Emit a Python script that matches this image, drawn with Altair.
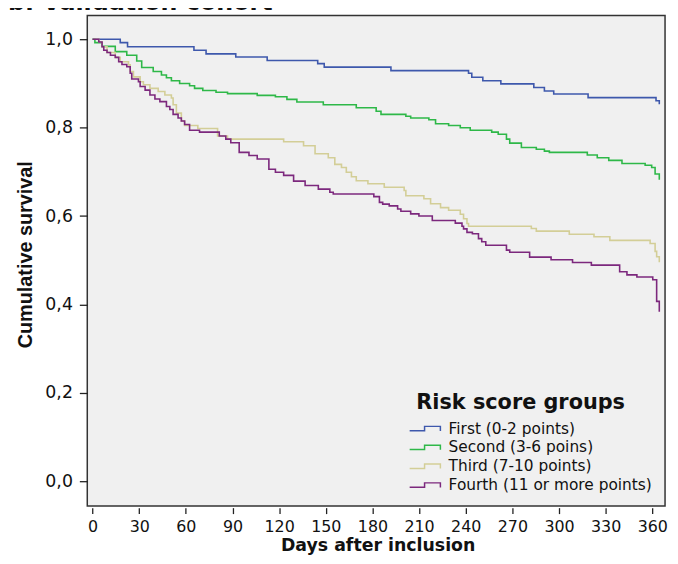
import altair as alt
import pandas as pd

# ---------------- data ----------------
groups = ["First (0-2 points)", "Second (3-6 poins)", "Third (7-10 points)",
          "Fourth (11 or more points)"]
colors = ["#3E58AC", "#2EB848", "#D3CE97", "#7C287D"]

first_days = [0, 17.8, 22.5, 65.2, 73.0, 92.1, 112.3, 144.8, 149.0, 191.9, 241.8,
              243.9, 251.0, 262.6, 283.8, 290.6, 296.6, 318.7, 362.4, 364.5, 365]
first_surv = [1.0, 0.9925, 0.983, 0.975, 0.967, 0.960, 0.952, 0.945, 0.937, 0.929,
              0.923, 0.914, 0.906, 0.899, 0.891, 0.883, 0.876, 0.868, 0.861, 0.855,
              0.855]

second_days = [0, 1.5, 6.1, 14.6, 22.0, 28.4, 31.6, 39.0, 44.3, 47.5, 50.7, 56.0,
               62.4, 65.6, 70.9, 79.4, 86.8, 105.9, 117.6, 125.0, 131.4, 148.4,
               169.6, 182.4, 185.5, 201.5, 204.6, 216.3, 220.6, 229.0, 236.5, 242.9,
               256.7, 260.9, 266.2, 268.3, 275.8, 285.4, 290.6, 293.8, 318.2, 324.6,
               332.0, 340.5, 355.4, 359.6, 361.8, 364.5, 365]
second_surv = [1.0, 0.9925, 0.984, 0.972, 0.964, 0.951, 0.936, 0.927, 0.919, 0.913,
               0.906, 0.900, 0.895, 0.889, 0.884, 0.880, 0.877, 0.873, 0.870, 0.864,
               0.858, 0.852, 0.845, 0.837, 0.830, 0.826, 0.822, 0.818, 0.809, 0.805,
               0.800, 0.794, 0.790, 0.785, 0.774, 0.765, 0.755, 0.751, 0.747, 0.744,
               0.738, 0.732, 0.726, 0.719, 0.715, 0.710, 0.695, 0.684, 0.684]

third_days = [0, 4.0, 6.1, 9.3, 14.6, 17.8, 23.1, 24.2, 26.3, 30.6, 32.7, 36.9, 42.2,
              46.5, 50.7, 51.8, 53.9, 57.1, 59.2, 67.7, 80.4, 86.8, 122.9, 135.7,
              143.1, 151.6, 155.8, 160.1, 163.2, 166.5, 169.6, 177.1, 187.6, 200.4,
              201.5, 213.1, 217.4, 223.8, 229.0, 236.5, 238.6, 240.8, 241.8, 282.2,
              285.4, 306.6, 322.5, 332.7, 358.6, 361.8, 362.8, 364.5, 365]
third_surv = [1.0, 0.994, 0.983, 0.970, 0.959, 0.949, 0.942, 0.927, 0.915, 0.904,
              0.897, 0.889, 0.882, 0.874, 0.867, 0.852, 0.833, 0.815, 0.805, 0.798,
              0.781, 0.774, 0.768, 0.759, 0.741, 0.732, 0.717, 0.710, 0.699, 0.689,
              0.680, 0.673, 0.665, 0.658, 0.646, 0.639, 0.628, 0.619, 0.613, 0.604,
              0.594, 0.583, 0.577, 0.572, 0.566, 0.559, 0.553, 0.545, 0.538, 0.520,
              0.508, 0.497, 0.497]

fourth_days = [0, 4.0, 6.1, 7.2, 9.3, 11.5, 14.6, 16.8, 18.9, 22.0, 24.2, 25.2, 29.5,
               30.6, 33.8, 36.9, 40.1, 43.3, 47.5, 49.7, 51.8, 55.0, 57.1, 59.2, 62.4,
               68.8, 81.5, 85.7, 88.9, 94.3, 100.6, 105.9, 113.4, 117.6, 122.9, 129.3,
               136.7, 145.2, 152.6, 154.8, 180.9, 184.5, 186.6, 190.8, 196.2, 198.3,
               204.6, 209.9, 218.5, 233.3, 237.6, 238.6, 240.8, 244.3, 248.2, 250.3,
               252.9, 266.2, 268.3, 281.1, 294.9, 308.7, 320.8, 339.0, 343.7, 350.1,
               360.3, 362.8, 364.5, 365]
fourth_surv = [1.0, 0.994, 0.983, 0.975, 0.970, 0.964, 0.959, 0.949, 0.943, 0.938,
               0.923, 0.910, 0.904, 0.893, 0.885, 0.874, 0.865, 0.859, 0.848, 0.841,
               0.830, 0.822, 0.815, 0.807, 0.794, 0.790, 0.781, 0.774, 0.766, 0.744,
               0.737, 0.729, 0.706, 0.699, 0.692, 0.679, 0.669, 0.661, 0.654, 0.650,
               0.644, 0.631, 0.627, 0.623, 0.616, 0.611, 0.605, 0.600, 0.590, 0.584,
               0.577, 0.571, 0.563, 0.560, 0.549, 0.542, 0.534, 0.523, 0.518, 0.507,
               0.501, 0.495, 0.489, 0.474, 0.467, 0.462, 0.456, 0.407, 0.385, 0.385]

x_ticks = list(range(0, 361, 30))
y_ticks = [0.0, 0.2, 0.4, 0.6, 0.8, 1.0]
chart_title = "b. Validation cohort"
x_title = "Days after inclusion"
y_title = "Cumulative survival"
legend_title = "Risk score groups"

# ---------------- table ----------------
rows = []
for g, d, s in zip(groups, [first_days, second_days, third_days, fourth_days],
                   [first_surv, second_surv, third_surv, fourth_surv]):
    for dd, ss in zip(d, s):
        rows.append({"group": g, "day": dd, "surv": ss})
df = pd.DataFrame(rows)

lines = alt.Chart(df).mark_line(interpolate="step-after", strokeWidth=1.6).encode(
    x=alt.X("day:Q",
            scale=alt.Scale(domain=[-3.4, 368.2], nice=False, zero=False),
            axis=alt.Axis(values=x_ticks, title=x_title, offset=1.7, domain=False,
                          grid=False, tickSize=6, tickWidth=1.3, tickColor="#222",
                          labelFont="DejaVu Sans", labelFontSize=16,
                          labelColor="#111", labelPadding=5,
                          titleFont="DejaVu Sans", titleFontSize=17.5,
                          titleFontWeight="bold", titleColor="#111",
                          titleX=293, titleY=43, titleBaseline="alphabetic",
                          titleAlign="center")),
    y=alt.Y("surv:Q",
            scale=alt.Scale(domain=[-0.056, 1.054], nice=False, zero=False),
            axis=alt.Axis(values=y_ticks, title=y_title, domain=False, grid=False,
                          tickSize=8, tickWidth=1.3, tickColor="#222",
                          labelExpr="replace(format(datum.value, '.1f'), '.', ',')",
                          labelFont="DejaVu Sans", labelFontSize=17.5,
                          labelColor="#111", labelPadding=7,
                          titleFont="Liberation Sans", titleFontSize=20,
                          titleFontWeight="bold", titleColor="#111",
                          titleAngle=270, titleX=-62, titleY=241,
                          titleAlign="center", titleBaseline="middle")),
    color=alt.Color("group:N",
                    scale=alt.Scale(domain=groups, range=colors),
                    legend=alt.Legend(orient="none", legendX=332, legendY=380,
                                      title=legend_title, titleFont="DejaVu Sans",
                                      titleFontSize=21, titleFontWeight="bold",
                                      titleColor="#111", titlePadding=8,
                                      titleLimit=400, labelLimit=400,
                                      labelFont="DejaVu Sans", labelFontSize=15.5,
                                      labelColor="#111", labelOffset=16.6,
                                      symbolType="M-2.1,0.3H0.05V-0.33H2.33V0.33",
                                      symbolSize=196, symbolStrokeWidth=1.5,
                                      symbolFillColor="transparent",
                                      rowPadding=2, padding=0)),
)

title_df = pd.DataFrame({"t": [chart_title]})
title_mark = alt.Chart(title_df).mark_text(
    align="left", baseline="alphabetic", font="DejaVu Sans", fontSize=24,
    fontWeight="bold", color="#111"
).encode(text="t:N", x=alt.value(-80), y=alt.value(-5))

chart = alt.layer(lines, title_mark).properties(
    width=583, height=495,
    autosize=alt.AutoSizeParams(type="none"),
    padding={"left": 80, "top": 5, "right": 5, "bottom": 48},
    background="white",
).configure_view(fill="#f0f0f0", stroke="#333", strokeWidth=1.5)

chart.save("out.html", embed_options={"renderer": "svg", "actions": False})
